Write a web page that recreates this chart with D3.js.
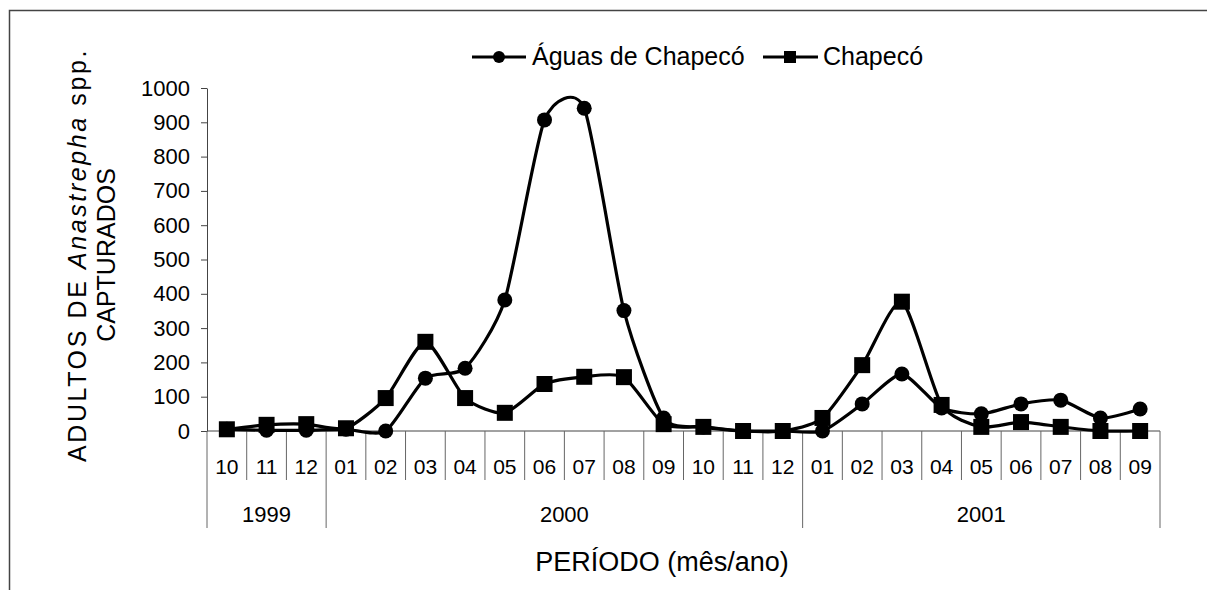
<!DOCTYPE html>
<html>
<head>
<meta charset="utf-8">
<script src="https://cdn.jsdelivr.net/npm/d3@7"></script>
<style>
  body { margin: 0; background: #fff; }
  svg { display: block; font-family: "Liberation Sans", Arial, sans-serif; }
  .axis path, .axis line { stroke: #444; stroke-width: 1; }
  .axis text { font-size: 22px; fill: #000; }
  .sep { stroke: #666; stroke-width: 1; }
  .series { fill: none; stroke: #000; stroke-width: 3.2; }
</style>
</head>
<body>
<script>
// month labels along the x axis (Oct 1999 .. Sep 2001)
var months = ['10', '11', '12',
    '01', '02', '03', '04', '05', '06', '07', '08', '09', '10', '11', '12',
    '01', '02', '03', '04', '05', '06', '07', '08', '09'];
var years = ['1999', '2000', '2001'];
var monthsPerYear = [3, 12, 9];

// adults of Anastrepha spp. captured
var aguas = [5, 2, 2, 5, 0, 154, 183, 382, 907, 941, 351, 38, 12, 0, 0,
    0, 79, 166, 67, 50, 79, 90, 38, 64];
var chapeco = [5, 18, 20, 8, 96, 260, 96, 53, 137, 158, 157, 20, 12, 0, 0,
    38, 192, 377, 76, 12, 26, 12, 0, 0];

var yTicks = [0, 100, 200, 300, 400, 500, 600, 700, 800, 900, 1000];

var width = 1207,
    height = 590;

var svg = d3.select('body')
    .append('svg')
    .attr('width', width)
    .attr('height', height);

// frame (cut off at the right and bottom in the original scan)
svg.append('rect')
    .attr('x', 9.5)
    .attr('y', 10.5)
    .attr('width', 1240)
    .attr('height', 620)
    .style('fill', 'none')
    .style('stroke', '#444')
    .style('stroke-width', 1.5);

var x = d3.scaleBand()
    .domain(d3.range(months.length))
    .range([207, 1160]);

var y = d3.scaleLinear()
    .domain([0, 1000])
    .range([431, 88]);

var bw = x.bandwidth();

// y axis
svg.append('g')
    .attr('class', 'axis')
    .attr('transform', 'translate(207,0)')
    .call(d3.axisLeft(y)
        .tickValues(yTicks)
        .tickFormat(d3.format('d'))
        .tickSize(6)
        .tickPadding(11)
        .tickSizeOuter(0));

// x axis line at zero
svg.append('line')
    .attr('class', 'sep')
    .attr('x1', x.range()[0]).attr('x2', x.range()[1])
    .attr('y1', y(0)).attr('y2', y(0))
    .style('stroke', '#444');

// month separators and labels
var yearStarts = [0];
monthsPerYear.forEach(function(n, i) { yearStarts.push(yearStarts[i] + n); });

var bounds = d3.range(months.length + 1);
svg.append('g').selectAll('line')
    .data(bounds).enter()
    .append('line')
    .attr('class', 'sep')
    .attr('x1', d => d < months.length ? x(d) : x.range()[1])
    .attr('x2', d => d < months.length ? x(d) : x.range()[1])
    .attr('y1', y(0))
    .attr('y2', d => yearStarts.indexOf(d) > -1 ? 528 : 480);

svg.append('g').selectAll('text')
    .data(months).enter()
    .append('text')
    .attr('x', (d, i) => x(i) + bw / 2)
    .attr('y', 474)
    .attr('text-anchor', 'middle')
    .style('font-size', '21px')
    .text(d => d);

svg.append('g').selectAll('text')
    .data(years).enter()
    .append('text')
    .attr('x', function(d, i) {
        var a = x(yearStarts[i]);
        var b = yearStarts[i + 1] < months.length ? x(yearStarts[i + 1]) : x.range()[1];
        return (a + b) / 2;
    })
    .attr('y', 522)
    .attr('text-anchor', 'middle')
    .style('font-size', '22px')
    .text(d => d);

// axis titles
svg.append('text')
    .attr('x', 662)
    .attr('y', 571)
    .attr('text-anchor', 'middle')
    .style('font-size', '27px')
    .text('PERÍODO (mês/ano)');

var ytitle = svg.append('text')
    .attr('transform', 'translate(0,255) rotate(-90)')
    .attr('text-anchor', 'middle')
    .style('font-size', '25px');

var line1 = ytitle.append('tspan')
    .attr('x', 0)
    .attr('y', 86)
    .style('letter-spacing', '2.6px');
line1.append('tspan').text('ADULTOS DE ');
line1.append('tspan').style('font-style', 'italic').text('Anastrepha');
line1.append('tspan').text('  spp.');

ytitle.append('tspan')
    .attr('x', 0)
    .attr('y', 115)
    .text('CAPTURADOS');

// series
var line = d3.line()
    .x((d, i) => x(i) + bw / 2)
    .y(d => y(d))
    .curve(d3.curveCardinal.tension(0.35));

svg.append('path')
    .datum(aguas)
    .attr('class', 'series')
    .attr('d', line);

svg.append('path')
    .datum(chapeco)
    .attr('class', 'series')
    .attr('d', line);

svg.append('g').selectAll('circle')
    .data(aguas).enter()
    .append('circle')
    .attr('cx', (d, i) => x(i) + bw / 2)
    .attr('cy', d => y(d))
    .attr('r', 7.5);

svg.append('g').selectAll('rect')
    .data(chapeco).enter()
    .append('rect')
    .attr('x', (d, i) => x(i) + bw / 2 - 8)
    .attr('y', d => y(d) - 8)
    .attr('width', 16)
    .attr('height', 16);

// legend
var legend = svg.append('g').attr('transform', 'translate(0,57)');

legend.append('line')
    .attr('x1', 472).attr('x2', 526)
    .style('stroke', '#000').style('stroke-width', 3);
legend.append('circle')
    .attr('cx', 499).attr('r', 6);
legend.append('text')
    .attr('x', 532).attr('y', 8)
    .style('font-size', '25px')
    .text('Águas de Chapecó');

legend.append('line')
    .attr('x1', 763).attr('x2', 818)
    .style('stroke', '#000').style('stroke-width', 3);
legend.append('rect')
    .attr('x', 784).attr('y', -6)
    .attr('width', 12).attr('height', 12);
legend.append('text')
    .attr('x', 823).attr('y', 8)
    .style('font-size', '25px')
    .text('Chapecó');
</script>
</body>
</html>
